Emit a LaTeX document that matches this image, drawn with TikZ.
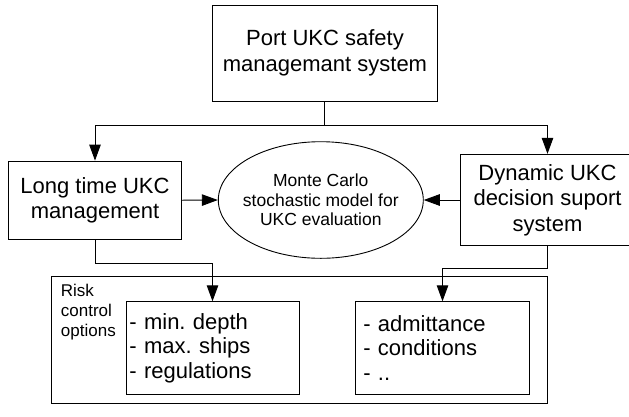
\documentclass[tikz,border=0pt]{standalone}
\usepackage{fontspec}
\setmainfont{Liberation Sans}
\usetikzlibrary{shapes.geometric,arrows.meta}

\begin{document}
\begin{tikzpicture}[x=1pt,y=-1pt,line width=0.9pt,
  box/.style={draw,inner sep=0pt,align=center,font=\fontsize{22}{25.5}\selectfont},
  listbox/.style={draw,inner ysep=0pt,align=left,minimum height=92.3pt,font=\fontsize{22}{24.5}\selectfont},
  arr/.style={-{Triangle[length=16pt,width=11.5pt]}}]
\useasboundingbox (0,0) rectangle (629,416);
\node[box,minimum width=224.6pt,minimum height=96pt] (psms) at (325,53) {Port UKC safety\\managemant system};
\node[box,minimum width=173.4pt,minimum height=78.3pt] (ltm) at (95,200.2) {Long time UKC\\management};
\node[box,minimum width=173.6pt,minimum height=91.4pt] (dss) at (547.5,200) {Dynamic UKC\\decision suport\\system};
\node[draw,ellipse,inner sep=-8pt,minimum width=205pt,minimum height=116.6pt,align=center,font=\fontsize{17.5}{19.7}\selectfont] (mc) at (320.8,200) {Monte Carlo\\stochastic model for\\UKC evaluation};
\node[draw,minimum width=495.8pt,minimum height=126.6pt] (rco) at (299.6,340) {};
\node[anchor=north west,inner sep=0pt,align=left,font=\fontsize{17}{20}\selectfont] (rcol) at (60.5,283.6) {Risk\\control\\options};
\node[listbox,inner xsep=3.4pt,text width=166.2pt] (rl) at (212.5,347.9) {- min.\ depth\\- max.\ ships\\- regulations};
\node[listbox,inner xsep=7.6pt,text width=158.4pt] (rr) at (442.5,347.9) {- admittance\\- conditions\\- ..};
\coordinate (split) at (324.3,125);
\draw[arr] (psms.south -| split) -- (split) -| (ltm.north);
\draw[arr] (split) -| (dss.north);
\draw[arr] (ltm.east) -- (mc.west);
\draw[arr] (dss.west) -- (mc.east);
\draw[arr] (ltm.south) -- ++(0,23.4) -| (rl.north);
\draw[arr] (dss.south) -- ++(0,22.6) -| (rr.north);
\end{tikzpicture}
\end{document}
